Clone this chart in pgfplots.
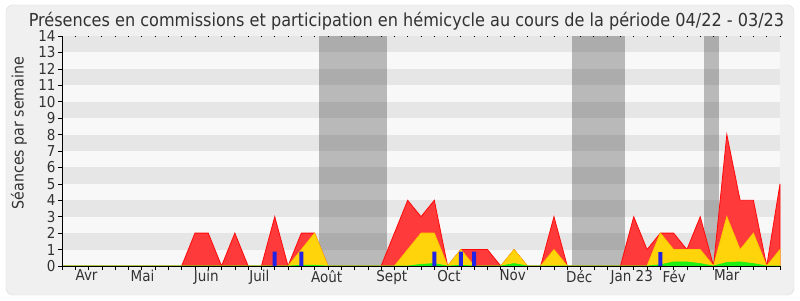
\documentclass[border=0pt]{standalone}
\usepackage{fontspec}
\setmainfont{DejaVu Sans Condensed}
\usepackage{pgfplots}
\pgfplotsset{compat=1.18}
\definecolor{bgc}{RGB}{240,240,240}
\definecolor{frame}{RGB}{218,218,218}
\definecolor{bandA}{RGB}{248,248,248}
\definecolor{bandB}{RGB}{230,230,230}
\definecolor{redfill}{RGB}{255,58,58}
\definecolor{redline}{RGB}{255,10,10}
\definecolor{yelfill}{RGB}{255,212,10}
\definecolor{yelline}{RGB}{255,200,0}
\definecolor{grnfill}{RGB}{30,240,20}
\definecolor{bluebar}{RGB}{35,35,230}
\definecolor{txt}{RGB}{50,50,50}
\begin{document}
\begin{tikzpicture}[x=1pt,y=1pt]
\fill[white] (-62,-34) rectangle (738,266);
\draw[rounded corners=7pt, draw=frame, fill=bgc] (-56,-29) rectangle (732,261);
\node[text=txt, anchor=base, font=\fontsize{17.9}{20}\selectfont] at (344.5,239.5) {Présences en commissions et participation en hémicycle au cours de la période 04/22 - 03/23};
\node[text=txt, rotate=90, font=\fontsize{15.8}{18}\selectfont] at (-43,133) {Séances par semaine};
\begin{axis}[
  at={(0,0)}, anchor=south west,
  scale only axis, width=718pt, height=230pt,
  xmin=0, xmax=54, ymin=0, ymax=14,
  axis x line*=bottom, axis y line*=left,
  axis line style={black, line width=0.8pt},
  axis on top=true,
  xtick={0,...,54}, xticklabels={},
  ytick={0,...,14},
  tick align=outside, major tick length=4pt,
  tick style={black, line width=0.6pt},
  extra x ticks={1.85,6.05,10.85,14.85,19.9,24.8,29.1,33.9,38.9,42.85,46.05,50.0},
  extra x tick labels={Avr,Mai,Juin,Juil,Août,Sept,Oct,Nov,Déc,Jan 23,Fév,Mar},
  extra x tick style={major tick length=0pt},
  /pgf/number format/assume math mode=true,
  ticklabel style={text=txt, font=\fontsize{15}{16}\selectfont},
  xticklabel style={yshift=-0.5pt},
  yticklabel style={xshift=1pt},
  clip=false,
]
% horizontal bands
\fill[bandA] (axis cs:0,0) rectangle (axis cs:54,14);
\fill[bandB] (axis cs:0,1) rectangle (axis cs:54,2);
\fill[bandB] (axis cs:0,3) rectangle (axis cs:54,4);
\fill[bandB] (axis cs:0,5) rectangle (axis cs:54,6);
\fill[bandB] (axis cs:0,7) rectangle (axis cs:54,8);
\fill[bandB] (axis cs:0,9) rectangle (axis cs:54,10);
\fill[bandB] (axis cs:0,11) rectangle (axis cs:54,12);
\fill[bandB] (axis cs:0,13) rectangle (axis cs:54,14);
% vacation bands
\fill[black, opacity=0.25] (axis cs:19.35,0) rectangle (axis cs:24.43,14);
\fill[black, opacity=0.25] (axis cs:38.36,0) rectangle (axis cs:42.36,14);
\fill[black, opacity=0.25] (axis cs:48.3,0) rectangle (axis cs:49.4,14);
\draw[black, dash pattern=on 0.8pt off 12.496pt, line width=0.8pt] (axis cs:-0.03,14) -- (axis cs:54,14);
% red
\addplot[draw=redline, fill=redfill, line width=0.8pt] table {
x y
0 0
1 0
2 0
3 0
4 0
5 0
6 0
7 0
8 0
9 0
10 2
11 2
12 0
13 2
14 0
15 0
16 3
17 0
18 2
19 2
20 0
21 0
22 0
23 0
24 0
25 2
26 4
27 3
28 4
29 0
30 1
31 1
32 1
33 0
34 1
35 0
36 0
37 3
38 0
39 0
40 0
41 0
42 0
43 3
44 1
45 2
46 2
47 1
48 3
49 0
50 8
51 4
52 4
53 0
54 5
} \closedcycle;
% yellow
\addplot[draw=yelline, fill=yelfill, line width=0.8pt] table {
x y
0 0
17 0
18 1
19 2
20 0
25 0
26 1
27 2
28 2
29 0
30 1
31 0
33 0
34 1
35 0
36 0
37 1
38 0
44 0
45 2
46 1
47 1
48 1
49 0
50 3
51 1
52 2
53 0
54 1
} \closedcycle;
% green
\addplot[draw=grnfill, fill=grnfill, line width=0.6pt] table {
x y
0 0
17 0
18 0.05
19 0.05
20 0
26 0
27 0.1
28 0.15
29 0
30 0.05
31 0
33 0
34 0.15
35 0
44 0
45 0.08
46 0.25
47 0.25
48 0.15
49 0
50 0.22
51 0.25
52 0.15
53 0
54 0
} \closedcycle;
% blue bars
\addplot[ybar, bar width=4pt, fill=bluebar, draw=none] coordinates {
(16,0.87) (18,0.87) (28,0.87) (30,0.87) (31,0.87) (45,0.85)
};
\end{axis}
\end{tikzpicture}
\end{document}
